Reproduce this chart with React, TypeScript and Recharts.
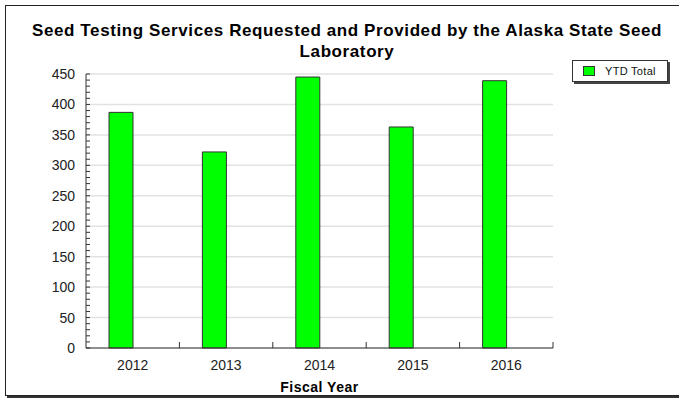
import { Bar, BarChart, CartesianGrid, Legend, Rectangle, XAxis, YAxis } from 'recharts';

const titleLines = [
  'Seed Testing Services Requested and Provided by the Alaska State Seed',
  'Laboratory',
];
const years = ['2012', '2013', '2014', '2015', '2016'];
const ytdTotals = [387, 322, 445, 363, 439];
const majorTicks = [0, 50, 100, 150, 200, 250, 300, 350, 400, 450];
const minorStep = 10;
const seriesName = 'YTD Total';
const xAxisTitle = 'Fiscal Year';

const W = 679;
const H = 400;
const MARGIN = { top: 74, right: 126, bottom: 0, left: 0 };
const Y_AXIS_W = 86;
const BAND = (W - Y_AXIS_W - MARGIN.right) / years.length;
const FONT = '"Liberation Sans", Arial, sans-serif';
const GREEN = '#00ff00';

const data = years.map((year, i) => ({ year, ytd: ytdTotals[i] }));
const yTicks: number[] = [];
for (let v = 0; v <= majorTicks[majorTicks.length - 1]; v += minorStep) yTicks.push(v);

function YTick({ x, y, payload }: any) {
  const major = majorTicks.includes(payload.value);
  return (
    <g>
      <line x1={x} x2={x + 4} y1={y} y2={y} stroke="#333" />
      {major && (
        <text x={x - 11} y={y} dy="0.36em" textAnchor="end" fill="#222" fontSize={14} fontFamily={FONT}>
          {payload.value}
        </text>
      )}
    </g>
  );
}

function XTick({ x, y, payload }: any) {
  return (
    <g>
      <line x1={x + BAND / 2} x2={x + BAND / 2} y1={y} y2={y - 6} stroke="#333" />
      <text x={x} y={y + 21.5} textAnchor="middle" fill="#222" fontSize={14} fontFamily={FONT}>
        {payload.value}
      </text>
    </g>
  );
}

// bars sit in the left half of each category slot
const LeftBar = (props: any) => <Rectangle {...props} x={props.x - props.width / 2} />;

function LegendBox() {
  return (
    <div
      style={{
        boxSizing: 'border-box',
        width: 96,
        height: 22,
        border: '1px solid #333',
        boxShadow: '2px 2px 0 #444',
        background: '#fff',
        display: 'flex',
        alignItems: 'center',
        fontFamily: FONT,
        fontSize: 11,
        letterSpacing: 0.3,
        color: '#111',
      }}
    >
      <span
        style={{
          boxSizing: 'border-box',
          width: 12,
          height: 10,
          marginLeft: 10,
          marginRight: 10,
          background: GREEN,
          border: '1px solid #333',
        }}
      />
      {seriesName}
    </div>
  );
}

export default function App() {
  return (
    <div style={{ position: 'absolute', left: 0, top: 0, width: W, height: H, overflow: 'hidden', background: '#fff' }}>
      <div
        style={{
          position: 'absolute',
          left: 5,
          top: 5,
          width: 700,
          height: 389,
          border: '1px solid #222',
          boxShadow: '2px 2px 0 #333',
        }}
      />
      <div
        style={{
          position: 'absolute',
          left: 17,
          top: 20,
          width: 660,
          textAlign: 'center',
          fontFamily: FONT,
          fontWeight: 'bold',
          fontSize: 17,
          letterSpacing: 0.6,
          lineHeight: '21px',
          color: '#000',
        }}
      >
        {titleLines.map((line) => (
          <div key={line} style={{ whiteSpace: 'nowrap' }}>
            {line}
          </div>
        ))}
      </div>
      <BarChart width={W} height={H} data={data} margin={MARGIN} barSize={24} style={{ position: 'absolute', left: 0, top: 0 }}>
        <CartesianGrid vertical={false} horizontalValues={majorTicks} stroke="#e2e2e2" strokeWidth={1.5} />
        <XAxis
          dataKey="year"
          height={52}
          interval={0}
          tickSize={0}
          tickMargin={0}
          tickLine={false}
          axisLine={{ stroke: '#333' }}
          tick={<XTick />}
          label={{
            value: xAxisTitle,
            position: 'insideBottom',
            offset: 8,
            fill: '#000',
            fontSize: 14,
            fontWeight: 'bold',
            letterSpacing: 0.5,
            fontFamily: FONT,
          }}
        />
        <YAxis
          width={Y_AXIS_W}
          domain={[0, majorTicks[majorTicks.length - 1]]}
          ticks={yTicks}
          interval={0}
          tickSize={0}
          tickMargin={0}
          tickLine={false}
          axisLine={{ stroke: '#333' }}
          tick={<YTick />}
        />
        <Legend
          layout="horizontal"
          verticalAlign="middle"
          align="center"
          wrapperStyle={{ position: 'absolute', left: 572, top: 60, width: 96, height: 22 }}
          content={() => <LegendBox />}
        />
        <Bar dataKey="ytd" name={seriesName} fill={GREEN} stroke="#333" strokeWidth={1} shape={LeftBar} isAnimationActive={false} />
      </BarChart>
    </div>
  );
}
